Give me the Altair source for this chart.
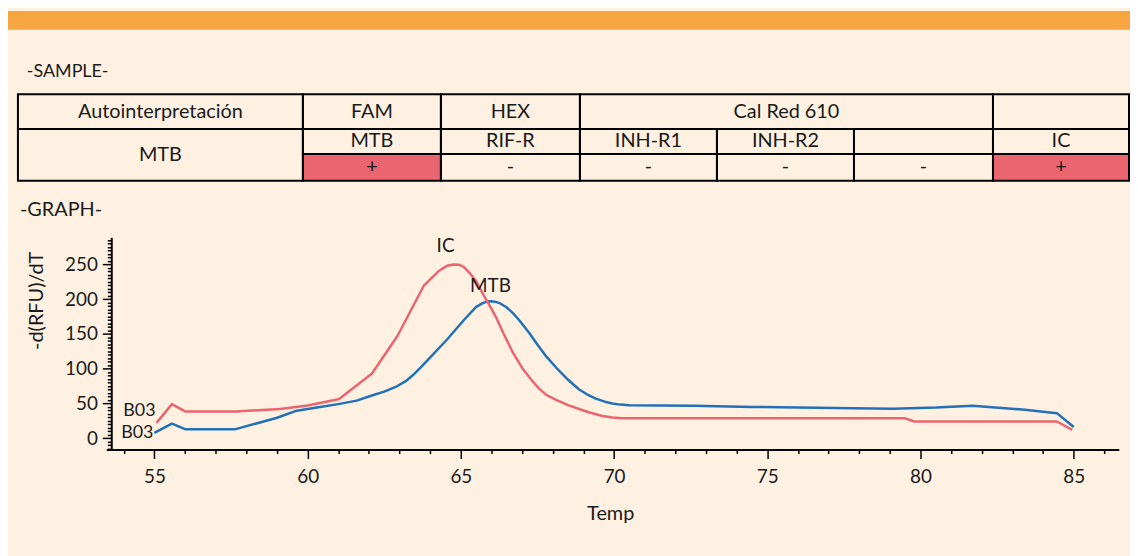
import altair as alt
import pandas as pd

# ---------------- data ----------------
mtb_temp = [55.0, 55.57, 56.0, 57.65, 58.98, 59.6, 60.3, 61.0, 61.6, 62.07, 62.5, 62.93,
            63.2, 63.47, 63.74, 64.1, 64.55, 65.1, 65.5, 65.7, 65.85, 66.0, 66.15, 66.3,
            66.5, 66.7, 66.9, 67.24, 67.46, 67.78, 68.1, 68.5, 68.86, 69.1, 69.4, 69.7,
            69.94, 70.2, 70.5, 72.6, 74.5, 77.8, 79.1, 80.5, 81.7, 83.4, 84.45, 85.0]
mtb_rfu = [7.5, 21, 13, 13, 29, 39, 44, 49, 54, 61, 67, 75,
           82, 92, 104, 121, 142, 170, 189, 194, 196.5, 197, 196, 193.5,
           188, 180, 170, 151, 137, 118, 102, 84, 70, 63.5, 57, 52.5,
           50, 48.3, 47.5, 46.5, 45, 43, 42.5, 44, 46.5, 41, 36, 16]

ic_temp = [55.07, 55.57, 56.0, 57.65, 59.1, 60.0, 61.0, 61.05, 62.1, 62.93, 63.8, 64.24,
           64.4, 64.55, 64.76, 64.95, 65.1, 65.3, 65.5, 65.73, 65.95, 66.16, 66.4, 66.7,
           67.0, 67.3, 67.56, 67.8, 68.11, 68.5, 68.86, 69.2, 69.62, 69.95, 70.27, 72.6,
           79.5, 79.8, 84.45, 84.95]
ic_rfu = [22, 49, 38.5, 38.5, 42, 47, 56, 57, 93, 147, 220, 239,
          244, 248, 250, 249.5, 246, 237, 226, 207, 190, 173, 150, 123,
          101, 84, 71, 62, 55, 47.5, 42, 37, 32, 29.8, 28.6, 28.6,
          28.6, 24, 24, 12]

series_names = ["MTB", "IC"]
well = "B03"

x_ticks = list(range(54, 87))
y_ticks = list(range(-15, 286, 5))

table_header = ["Autointerpretación", "FAM", "HEX", "Cal Red 610", ""]
table_targets = ["MTB", "RIF-R", "INH-R1", "INH-R2", "", "IC"]
table_results = ["+", "-", "-", "-", "-", "+"]
sample_result = "MTB"

# ---------------- style / layout ----------------
FONT = "Lato"
CREAM = "#FEF1E2"
ORANGE = "#F7A541"
RED = "#EA6570"
BLUE = "#2170B8"
INK = "#1a1a1a"
W, H = 1130, 548

col_edges = [10, 297, 436, 576, 714, 852, 992, 1129]
row_edges = [85, 120, 145, 172]
header_spans = [(0, 1), (1, 2), (2, 3), (3, 6), (6, 7)]

cells = []
for (c0, c1), txt in zip(header_spans, table_header):
    cells.append(dict(x0=col_edges[c0], x1=col_edges[c1], y0=row_edges[0], y1=row_edges[1],
                      label=txt, fill=CREAM))
cells.append(dict(x0=col_edges[0], x1=col_edges[1], y0=row_edges[1], y1=row_edges[3],
                  label=sample_result, fill=CREAM))
for i, txt in enumerate(table_targets):
    cells.append(dict(x0=col_edges[i + 1], x1=col_edges[i + 2], y0=row_edges[1], y1=row_edges[2],
                      label=txt, fill=CREAM))
for i, txt in enumerate(table_results):
    cells.append(dict(x0=col_edges[i + 1], x1=col_edges[i + 2], y0=row_edges[2], y1=row_edges[3],
                      label=txt, fill=RED if txt == "+" else CREAM))
cells_df = pd.DataFrame(cells)
cells_df["xc"] = (cells_df.x0 + cells_df.x1) / 2
cells_df["yc"] = (cells_df.y0 + cells_df.y1) / 2

px = lambda f: alt.X(f, scale=None, axis=None)
py = lambda f: alt.Y(f, scale=None, axis=None)

cell_fill = alt.Chart(cells_df).mark_rect(strokeWidth=0).encode(
    x=px("x0:Q"), x2="x1", y=py("y0:Q"), y2="y1",
    fill=alt.Fill("fill:N", scale=None))
cell_border = alt.Chart(cells_df).mark_rect(fillOpacity=0, stroke="black", strokeWidth=2).encode(
    x=px("x0:Q"), x2="x1", y=py("y0:Q"), y2="y1")
cell_text = alt.Chart(cells_df).mark_text(font=FONT, fontSize=20, color=INK,
                                          baseline="middle", align="center").encode(
    x=px("xc:Q"), y=py("yc:Q"), text="label:N")

top_bar = alt.Chart(pd.DataFrame({"a": [0]})).mark_rect(color=ORANGE).encode(
    x=alt.value(0), x2=alt.value(W), y=alt.value(1), y2=alt.value(20))


def label(txt, x, y, angle=0, align="left", size=18):
    return alt.Chart(pd.DataFrame({"t": [txt]})).mark_text(
        font=FONT, fontSize=size, color=INK, align=align, baseline="middle", angle=angle
    ).encode(x=alt.value(x), y=alt.value(y), text="t:N")


titles = [
    label("-SAMPLE-", 19, 63),
    label("-GRAPH-", 12, 202, size=20),
    label("-d(RFU)/dT", 29.5, 293, angle=270, align="center", size=20),
    label("Temp", 607, 508, align="center", size=20),
]

# ---------------- melt curve ----------------
curve = pd.concat([
    pd.DataFrame({"temp": mtb_temp, "rfu": mtb_rfu, "target": "MTB"}),
    pd.DataFrame({"temp": ic_temp, "rfu": ic_rfu, "target": "IC"}),
], ignore_index=True)

xs = alt.Scale(domain=[53.43, 86.47], range=[99, 1118.7], nice=False, zero=False)
ys = alt.Scale(domain=[-16.3, 289], range=[442.7, 229], nice=False, zero=False)
color = alt.Color("target:N", scale=alt.Scale(domain=series_names, range=[BLUE, RED]), legend=None)

x_axis = alt.Axis(values=x_ticks, labelExpr="datum.value % 5 === 0 ? datum.label : ''",
                  tickSize={"condition": {"test": "datum.value % 5 === 0", "value": 9}, "value": 4},
                  tickColor="black", tickWidth=1.5, domainColor="black", domainWidth=2,
                  labelFont=FONT, labelFontSize=19, labelColor=INK, labelPadding=9,
                  labelOverlap=False, labelFlush=False, grid=False, title=None, offset=-105.3)
y_axis = alt.Axis(values=y_ticks,
                  labelExpr="datum.value % 50 === 0 && datum.value >= 0 ? datum.label : ''",
                  tickSize={"condition": {"test": "datum.value % 50 === 0", "value": 9}, "value": 4},
                  tickColor="black", tickWidth=1.5, domainColor="black", domainWidth=2,
                  labelFont=FONT, labelFontSize=19, labelColor=INK, labelPadding=5,
                  labelOverlap=False, labelFlush=False, grid=False, title=None, offset=-104)

X = alt.X("temp:Q", scale=xs, axis=x_axis)
Y = alt.Y("rfu:Q", scale=ys, axis=y_axis)

lines = alt.Chart(curve).mark_line(strokeWidth=2.5, strokeJoin="round").encode(
    x=X, y=Y, color=color, detail="target:N", order="temp:Q")

starts = curve.groupby("target", as_index=False).first()
start_dy = {"MTB": 0, "IC": -11.5}
peaks = curve.loc[curve.groupby("target")["rfu"].idxmax()].reset_index(drop=True)
peak_dx = {"MTB": -1, "IC": -8}
peak_dy = {"MTB": -15.5, "IC": -18.5}

text_layers = []
for _, r in starts.iterrows():
    text_layers.append(alt.Chart(pd.DataFrame([r.to_dict()])).mark_text(
        font=FONT, fontSize=18, color=INK, align="right", baseline="middle",
        dx=-1, dy=start_dy[r.target]).encode(x=X, y=Y, text=alt.value(well)))
for _, r in peaks.iterrows():
    text_layers.append(alt.Chart(pd.DataFrame([r.to_dict()])).mark_text(
        font=FONT, fontSize=19, color=INK, align="center", baseline="middle",
        dx=peak_dx[r.target], dy=peak_dy[r.target]).encode(x=X, y=Y, text="target:N"))

chart = alt.layer(
    top_bar, cell_fill, cell_border, cell_text, *titles, lines, *text_layers
).properties(
    width=W, height=H, background=CREAM, padding=0,
    autosize=alt.AutoSizeParams(type="none")
).configure_view(strokeWidth=0)

chart.save("out.html", embed_options={"renderer": "svg", "actions": False})
